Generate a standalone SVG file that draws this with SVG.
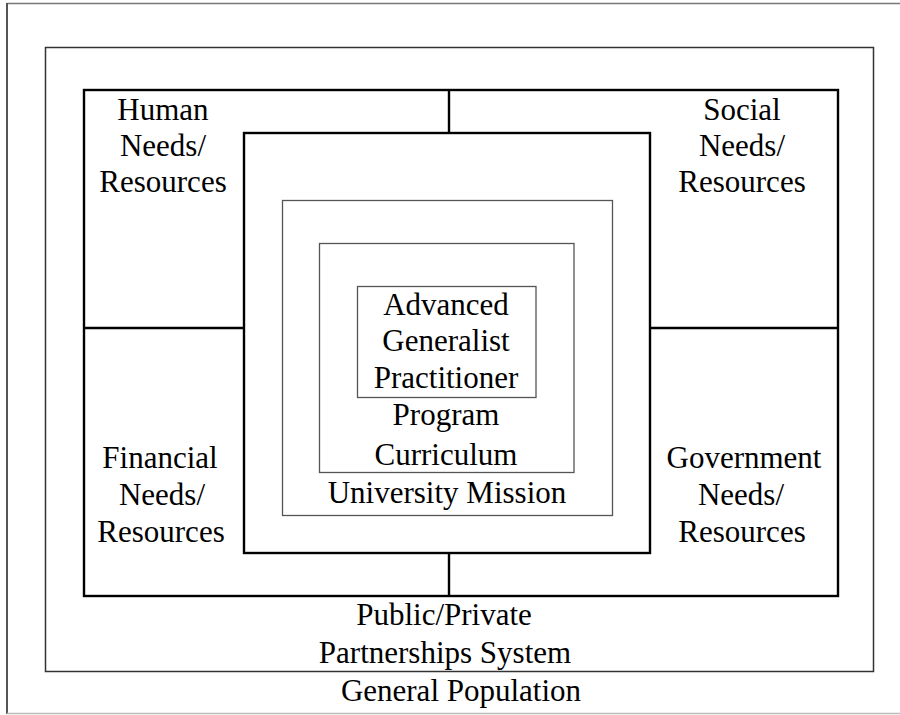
<svg xmlns="http://www.w3.org/2000/svg" width="900" height="715" viewBox="0 0 900 715">
<style>
.thin{fill:none;stroke:#555;stroke-width:1.3}
.frame{fill:none;stroke:#333;stroke-width:1.5}
.thick{fill:none;stroke:#000;stroke-width:2.4}
text{font-family:"Liberation Serif","Times New Roman",serif;font-size:31px;fill:#000;text-anchor:middle}
</style>
<rect width="900" height="715" fill="#fff"/>
<g id="general-population">
<line x1="7" y1="3.5" x2="900" y2="3.5" stroke="#777" stroke-width="1.5"/>
<line x1="7" y1="3" x2="7" y2="714" stroke="#555" stroke-width="2"/>
<line x1="7" y1="713.5" x2="900" y2="713.5" stroke="#bbb" stroke-width="1.5"/>
<text x="461" y="701">General Population</text>
</g>
<g id="partnerships">
<rect class="frame" x="45.5" y="47.5" width="828" height="624"/>
<text x="444" y="625">Public/Private</text>
<text x="445" y="663">Partnerships System</text>
</g>
<g id="needs-resources">
<rect class="thick" x="84" y="90" width="754" height="506"/>
</g>
<g id="connectors">
<line class="thick" x1="449" y1="90" x2="449" y2="133"/>
<line class="thick" x1="449" y1="553" x2="449" y2="596"/>
<line class="thick" x1="84" y1="328" x2="244" y2="328"/>
<line class="thick" x1="650" y1="328" x2="838" y2="328"/>
</g>
<g id="human">
<text x="163" y="120">Human</text>
<text x="163" y="156">Needs/</text>
<text x="163" y="192">Resources</text>
</g>
<g id="social">
<text x="742" y="120">Social</text>
<text x="742" y="156">Needs/</text>
<text x="742" y="192">Resources</text>
</g>
<g id="financial">
<text x="160" y="468">Financial</text>
<text x="162" y="505">Needs/</text>
<text x="161" y="542">Resources</text>
</g>
<g id="government">
<text x="744" y="468">Government</text>
<text x="741" y="505">Needs/</text>
<text x="742" y="542">Resources</text>
</g>
<g id="center">
<rect class="thick" x="244" y="133" width="406" height="420"/>
</g>
<g id="university-mission">
<rect class="thin" x="282.5" y="200.5" width="330" height="315"/>
<text x="447" y="503">University Mission</text>
</g>
<g id="program-curriculum">
<rect class="thin" x="319.5" y="243.5" width="254.5" height="229"/>
<text x="446" y="425">Program</text>
<text x="446" y="465">Curriculum</text>
</g>
<g id="practitioner">
<rect class="thin" x="357.5" y="286.5" width="178.5" height="111"/>
<text x="446" y="315">Advanced</text>
<text x="446" y="351">Generalist</text>
<text x="446" y="388">Practitioner</text>
</g>
</svg>
